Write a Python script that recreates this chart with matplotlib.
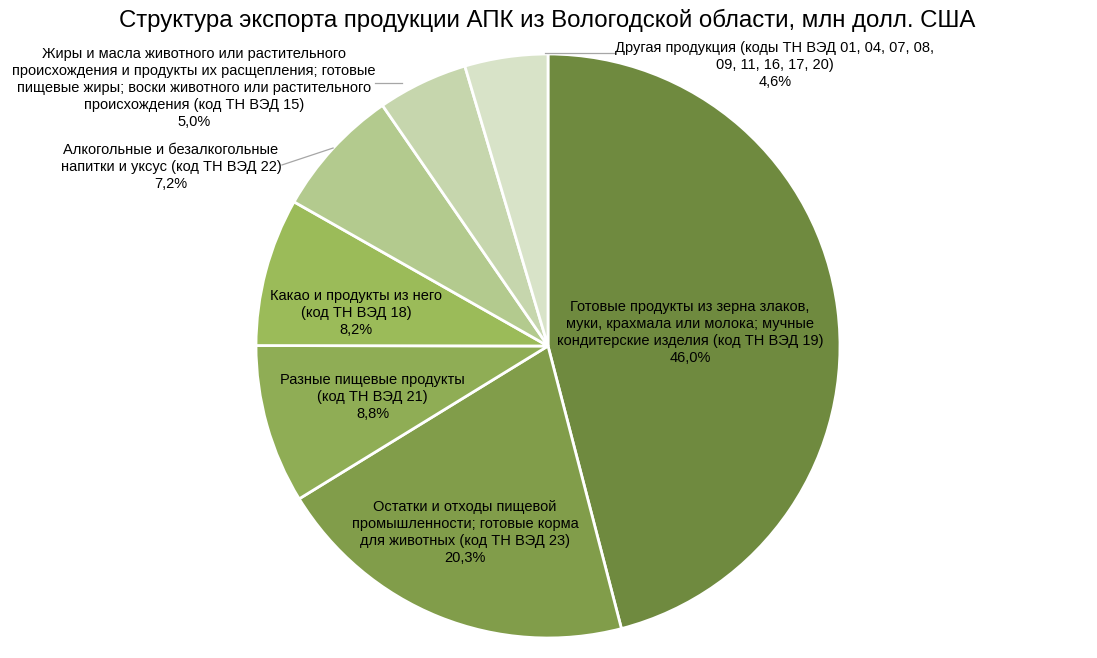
import numpy as np
import matplotlib
matplotlib.use("Agg")
import matplotlib.pyplot as plt

plt.rcParams['font.family'] = ['Liberation Sans', 'DejaVu Sans']

title = "Структура экспорта продукции АПК из Вологодской области, млн долл. США"
labels = [
    "Готовые продукты из зерна злаков,\nмуки, крахмала или молока; мучные\nкондитерские изделия (код ТН ВЭД 19)",
    "Остатки и отходы пищевой\nпромышленности; готовые корма\nдля животных (код ТН ВЭД 23)",
    "Разные пищевые продукты\n(код ТН ВЭД 21)",
    "Какао и продукты из него\n(код ТН ВЭД 18)",
    "Алкогольные и безалкогольные\nнапитки и уксус (код ТН ВЭД 22)",
    "Жиры и масла животного или растительного\nпроисхождения и продукты их расщепления; готовые\nпищевые жиры; воски животного или растительного\nпроисхождения (код ТН ВЭД 15)",
    "Другая продукция (коды ТН ВЭД 01, 04, 07, 08,\n09, 11, 16, 17, 20)",
]
shares = [46.0, 20.3, 8.8, 8.2, 7.2, 5.0, 4.6]
colors = ['#6F8A3F', '#819D4A', '#8FAD55', '#9BBB59', '#B3CA8E', '#C6D6AD', '#D8E3C8']

W, H = 1097, 658
cx, cy, R = 548, 346, 292

fig = plt.figure(figsize=(W / 100, H / 100), dpi=100)
ax = fig.add_axes([(cx - R) / W, (H - cy - R) / H, 2 * R / W, 2 * R / H])

wedges, _ = ax.pie(shares, colors=colors, startangle=90, counterclock=False,
                   radius=1, wedgeprops=dict(edgecolor='white', linewidth=2))
for w in wedges:
    w.set_clip_on(False)
ax.set_xlim(-1, 1)
ax.set_ylim(-1, 1)
ax.axis('off')

def pct(v):
    return f"{v:.1f}%".replace('.', ',')

fs = 10.5
ls = 1.27

# inner labels: distance from centre as share of radius, angle in degrees
inner = {0: (0.488, 5.6), 1: (0.698, -114.0), 2: (0.625, -163.8), 3: (0.667, 170.2)}
for i, (rr, ang) in inner.items():
    a = np.deg2rad(ang)
    ax.text(rr * np.cos(a), rr * np.sin(a), labels[i] + "\n" + pct(shares[i]),
            ha='center', va='center', fontsize=fs, linespacing=ls,
            color='black', clip_on=False)

# outer labels with leader lines
outer = {
    4: ((-1.291, 0.613), [(-0.736, 0.678), (-0.911, 0.620)]),
    5: ((-1.212, 0.885), [(-0.50, 0.901), (-0.592, 0.901)]),
    6: ((0.777, 0.962), [(-0.01, 1.003), (0.229, 1.003)]),
}
for i, (pos, line) in outer.items():
    ax.text(pos[0], pos[1], labels[i] + "\n" + pct(shares[i]),
            ha='center', va='center', fontsize=fs, linespacing=ls,
            color='black', clip_on=False)
    xs, ys = zip(*line)
    ax.plot(xs, ys, color='#A6A6A6', lw=0.9, clip_on=False)

fig.text(547 / W, 1 - 20 / H, title, ha='center', va='center', fontsize=17.3)

fig.savefig("out.png", dpi=100, facecolor='white')
